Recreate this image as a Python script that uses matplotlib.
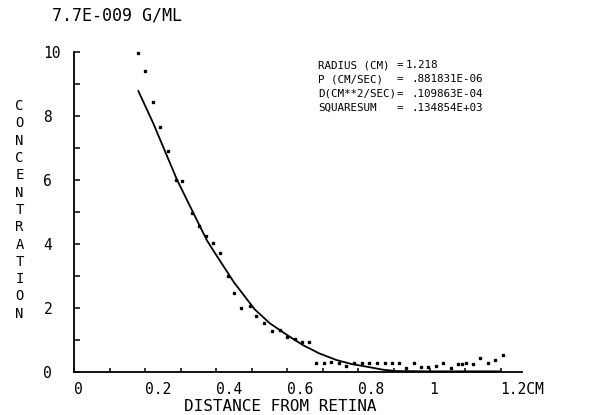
import numpy as np
import matplotlib
matplotlib.use("Agg")
import matplotlib.pyplot as plt
from matplotlib.ticker import MultipleLocator, FixedLocator, FixedFormatter

# measured concentration (dots)
dist_pts = [0.181, 0.201, 0.223, 0.243, 0.265, 0.286, 0.305, 0.331, 0.352, 0.371,
            0.390, 0.410, 0.434, 0.449, 0.471, 0.494, 0.511, 0.534, 0.558, 0.579,
            0.599, 0.621, 0.641, 0.662, 0.682, 0.702, 0.724, 0.744, 0.766, 0.787,
            0.809, 0.830, 0.852, 0.874, 0.895, 0.915, 0.934, 0.956, 0.977, 0.997,
            1.018, 1.039, 1.059, 1.080, 1.092, 1.103, 1.122, 1.142, 1.164, 1.184, 1.206]
conc_pts = [9.96, 9.42, 8.43, 7.67, 6.92, 6.00, 5.96, 4.98, 4.55, 4.25,
            4.04, 3.73, 3.00, 2.48, 1.99, 2.06, 1.75, 1.52, 1.29, 1.31,
            1.10, 1.02, 0.94, 0.94, 0.27, 0.27, 0.32, 0.29, 0.19, 0.27,
            0.27, 0.27, 0.27, 0.27, 0.27, 0.27, 0.13, 0.27, 0.17, 0.17,
            0.19, 0.29, 0.13, 0.25, 0.25, 0.29, 0.25, 0.43, 0.29, 0.39, 0.53]

# fitted curve
dist_fit = [0.181, 0.223, 0.290, 0.373, 0.391, 0.450, 0.508, 0.551, 0.600, 0.644,
            0.690, 0.738, 0.780, 0.831, 0.870, 0.906, 1.000, 1.100, 1.200]
conc_fit = [8.78, 7.77, 6.00, 4.13, 3.81, 2.80, 1.96, 1.52, 1.15, 0.84,
            0.58, 0.375, 0.25, 0.15, 0.07, 0.03, 0.02, 0.02, 0.02]

xtick_vals = [0, 0.2, 0.4, 0.6, 0.8, 1.0, 1.2]
xtick_labels = ["0", "0.2", "0.4", "0.6", "0.8", "1", "1.2CM"]
ytick_vals = [0, 2, 4, 6, 8, 10]
ytick_labels = ["0", "2", "4", "6", "8", "10"]

param_names = ["RADIUS (CM)", "P (CM/SEC)", "D(CM**2/SEC)", "SQUARESUM"]
param_values = ["1.218", ".881831E-06", ".109863E-04", ".134854E+03"]

W, H = 607, 415
mono = "DejaVu Sans Mono"

fig = plt.figure(figsize=(W / 100, H / 100), dpi=100)
ax = fig.add_axes([74 / W, 1 - 372 / H, (522 - 74) / W, 320 / H])

ax.plot(dist_pts, conc_pts, linestyle="none", marker="s", markersize=1.6,
        color="black", clip_on=False)
ax.plot(dist_fit, conc_fit, color="black", linewidth=1.3, clip_on=False)

ax.set_xlim(0, 1.26)
ax.set_ylim(0, 10)
for s in ["top", "right"]:
    ax.spines[s].set_visible(False)
for s in ["left", "bottom"]:
    ax.spines[s].set_linewidth(1.3)

ax.xaxis.set_major_locator(FixedLocator(xtick_vals))
ax.xaxis.set_major_formatter(FixedFormatter(xtick_labels))
ax.xaxis.set_minor_locator(MultipleLocator(0.1))
ax.yaxis.set_major_locator(FixedLocator(ytick_vals))
ax.yaxis.set_major_formatter(FixedFormatter(ytick_labels))
ax.yaxis.set_minor_locator(MultipleLocator(1))

ax.tick_params(axis="both", which="both", direction="in", width=1.1, color="black")
ax.tick_params(axis="x", which="both", length=3, pad=7, labelsize=10.5)
ax.tick_params(axis="y", which="both", length=4, pad=22, labelsize=10.5)
for lab in ax.get_xticklabels():
    lab.set_fontfamily(mono)
    lab.set_horizontalalignment("left")
for lab in ax.get_yticklabels():
    lab.set_fontfamily(mono)
    lab.set_horizontalalignment("left")

def fx(x):
    return x / W

def fy(y):
    return 1 - y / H

fig.text(fx(52), fy(15), "7.7E-009 G/ML", family=mono, fontsize=12,
         ha="left", va="center")
fig.text(fx(184), fy(406), "DISTANCE FROM RETINA", family=mono, fontsize=11.5,
         ha="left", va="center")
fig.text(fx(19.5), fy(210), "\n".join("CONCENTRATION"), family=mono, fontsize=10,
         ha="center", va="center", linespacing=1.3)

for i, (name, val) in enumerate(zip(param_names, param_values)):
    yy = fy(65 + i * 14.4)
    fig.text(fx(318), yy, name, family=mono, fontsize=7.8, ha="left", va="center")
    fig.text(fx(397), yy, "=", family=mono, fontsize=7.8, ha="left", va="center")
    x0 = 406 if not val.startswith(".") else 411
    fig.text(fx(x0), yy, val, family=mono, fontsize=7.8, ha="left", va="center")

fig.savefig("out.png", dpi=100)
